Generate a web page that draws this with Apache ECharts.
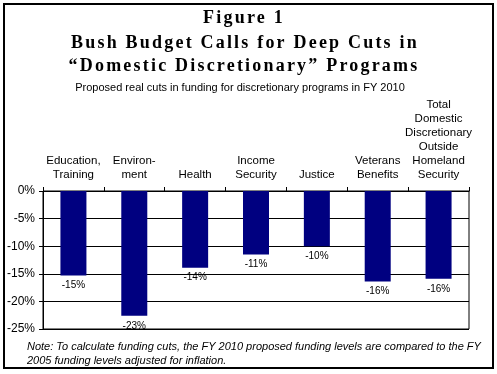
<!DOCTYPE html>
<html>
<head>
<meta charset="utf-8">
<script src="https://cdn.jsdelivr.net/npm/echarts@6/dist/echarts.min.js"></script>
<style>
html,body{margin:0;padding:0;background:#fff;}
#chart{width:497px;height:374px;}
</style>
</head>
<body>
<div id="chart"></div>
<script>
// ---- data ----
const categories = [
  'Education,\nTraining',
  'Environ-\nment',
  'Health',
  'Income\nSecurity',
  'Justice',
  'Veterans\nBenefits',
  'Total\nDomestic\nDiscretionary\nOutside\nHomeland\nSecurity'
];
const values = [-15.3, -22.6, -13.9, -11.5, -10.0, -16.4, -15.9];
const valueLabels = ['-15%', '-23%', '-14%', '-11%', '-10%', '-16%', '-16%'];
const yMin = -25, yMax = 0, yStep = 5;

const titleLines = ['Figure 1', 'Bush Budget Calls for Deep Cuts in', '\u201cDomestic Discretionary\u201d Programs'];
const subtitle = 'Proposed real cuts in funding for discretionary programs in FY 2010';
const noteText = 'Note: To calculate funding cuts, the FY 2010 proposed funding levels are compared to the FY\n2005 funding levels adjusted for inflation.';

// spaced-out serif headings (letter spacing on the title font only)
(function () {
  const proto = CanvasRenderingContext2D.prototype;
  const orig = proto.fillText;
  proto.fillText = function (t, x, y, w) {
    if ('letterSpacing' in this) {
      this.letterSpacing = /Serif/.test(this.font) ? '2.2px' : '0px';
    }
    return w === undefined ? orig.call(this, t, x, y) : orig.call(this, t, x, y, w);
  };
})();

const chart = echarts.init(document.getElementById('chart'), null, {renderer: 'canvas'});
const serif = "'Liberation Serif', 'Times New Roman', serif";
const sans = "'Liberation Sans', Arial, sans-serif";

chart.setOption({
  backgroundColor: '#fff',
  animation: false,
  grid: {
    left: 43, right: 28, top: 191, height: 138,
    show: true, borderColor: '#000', borderWidth: 1, backgroundColor: 'transparent'
  },
  xAxis: {
    type: 'category',
    position: 'top',
    data: categories,
    axisLine: {show: true, lineStyle: {color: '#000', width: 1}},
    axisTick: {show: true, length: 4, lineStyle: {color: '#000'}},
    axisLabel: {
      interval: 0, color: '#000', fontFamily: sans, fontSize: 11.5,
      lineHeight: 14, margin: 9, align: 'center'
    },
    splitLine: {show: false}
  },
  yAxis: {
    type: 'value',
    min: yMin, max: yMax, interval: yStep,
    axisLine: {show: true, lineStyle: {color: '#000'}},
    axisTick: {show: true, length: 4, lineStyle: {color: '#000'}},
    axisLabel: {color: '#000', fontFamily: sans, fontSize: 12, margin: 8, formatter: '{value}%'},
    splitLine: {show: true, lineStyle: {color: '#000', width: 1}}
  },
  series: [{
    type: 'bar',
    data: values,
    barWidth: 26,
    itemStyle: {color: '#000080'},
    label: {
      show: true, position: 'bottom', distance: 5,
      color: '#000', fontFamily: sans, fontSize: 10,
      formatter: p => valueLabels[p.dataIndex]
    }
  }],
  graphic: [
    {type: 'rect', shape: {x: 4, y: 4, width: 489, height: 364},
     style: {fill: 'none', stroke: '#000', lineWidth: 2}, silent: true},
    {type: 'text', x: 244, y: 18,
     style: {text: titleLines[0], font: "bold 18px " + serif, fill: '#000', align: 'center', verticalAlign: 'middle'}},
    {type: 'text', x: 245, y: 43,
     style: {text: titleLines[1], font: "bold 18px " + serif, fill: '#000', align: 'center', verticalAlign: 'middle'}},
    {type: 'text', x: 244, y: 66,
     style: {text: titleLines[2], font: "bold 18px " + serif, fill: '#000', align: 'center', verticalAlign: 'middle'}},
    {type: 'text', x: 240, y: 88,
     style: {text: subtitle, font: "11px " + sans, fill: '#000', align: 'center', verticalAlign: 'middle'}},
    {type: 'text', x: 27, y: 340,
     style: {text: noteText, font: "italic 11px " + sans, fill: '#000', align: 'left', verticalAlign: 'top', lineHeight: 14}}
  ]
});
</script>
</body>
</html>
